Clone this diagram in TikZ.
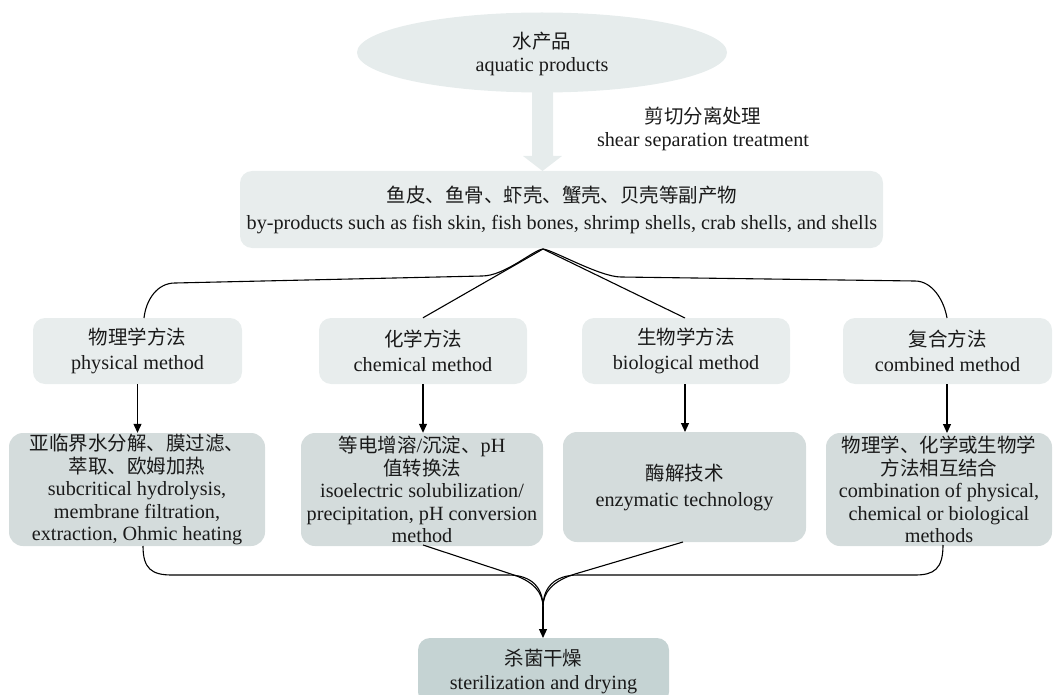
\documentclass[tikz,border=0pt]{standalone}
\usepackage{fontspec}
\setmainfont{Liberation Serif}
\newfontfamily\cjk[Scale=0.965]{Noto Sans CJK SC}
\usetikzlibrary{shapes.geometric,arrows.meta}
\definecolor{ellc}{HTML}{E6ECEC}
\definecolor{lightc}{HTML}{E8EDED}
\definecolor{midc}{HTML}{D4DCDC}
\definecolor{darkc}{HTML}{C5D3D3}
\definecolor{txt}{HTML}{1A1A1A}
\begin{document}
\begin{tikzpicture}[x=1pt,y=-1pt,
  every node/.style={font=\fontsize{20.2}{22.5}\selectfont, text=txt, align=center, inner sep=0pt},
  lightbox/.style={fill=lightc, rounded corners=12pt, minimum height=66pt, minimum width=209pt},
  midbox/.style={fill=midc, rounded corners=14pt, minimum height=113pt},
  conn/.style={draw=black, line width=1.1pt},
  arr/.style={conn, -{Triangle[length=9pt,width=8pt]}}]
\useasboundingbox (0,0) rectangle (1054,695);
\clip (0,0) rectangle (1054,695);
% big arrow
\fill[ellc] (532,80) -- (553,80) -- (553,156) -- (562,156) -- (542.5,171) -- (523,156) -- (532,156) -- cycle;
\node[ellipse, fill=ellc, minimum width=370pt, minimum height=80pt] (aq) at (542,52.5) {};
\node[font=\fontsize{20.2}{23}\selectfont] (aqt) at (542,54) {{\cjk 水产品}\\aquatic products};
\node[font=\fontsize{20.2}{23}\selectfont] (shear) at (703,129) {{\cjk 剪切分离处理}\\shear separation treatment};
% by-products
\node[fill=lightc, rounded corners=12pt, minimum width=643pt, minimum height=77pt] (bp) at (561.5,209.5) {};
\node[font=\fontsize{20.2}{27}\selectfont] (bpt) at (562,209.5) {{\cjk 鱼皮、鱼骨、虾壳、蟹壳、贝壳等副产物}\\by-products such as fish skin, fish bones, shrimp shells, crab shells, and shells};
% method boxes
\node[lightbox, font=\fontsize{20.2}{25}\selectfont] (phys) at (137.5,351) {{\cjk 物理学方法}\\physical method};
\node[lightbox, font=\fontsize{20.2}{25}\selectfont, minimum width=208pt] (chem) at (423,351) {{\cjk 化学方法}\\chemical method};
\node[lightbox, font=\fontsize{20.2}{25}\selectfont, minimum width=208pt] (bio) at (686,351) {{\cjk 生物学方法}\\biological method};
\node[lightbox, font=\fontsize{20.2}{25}\selectfont] (comb) at (947.5,351) {{\cjk 复合方法}\\combined method};
% detail boxes
\node[midbox, minimum width=256pt] (physd) at (137,489.5) {{\cjk 亚临界水分解、膜过滤、}\\{\cjk 萃取、欧姆加热}\\subcritical hydrolysis,\\membrane filtration,\\extraction, Ohmic heating};
\node[midbox, minimum width=242pt] (chemd) at (422,489.5) {{\cjk 等电增溶}/{\cjk 沉淀、}pH\\{\cjk 值转换法}\\isoelectric solubilization/\\precipitation, pH conversion\\method};
\node[midbox, minimum width=243pt, minimum height=110pt, font=\fontsize{20.2}{26}\selectfont] (biod) at (684.5,487) {{\cjk 酶解技术}\\enzymatic technology};
\node[midbox, minimum width=226pt] (combd) at (939,489.5) {{\cjk 物理学、化学或生物学}\\{\cjk 方法相互结合}\\combination of physical,\\chemical or biological\\methods};
% final
\node[fill=darkc, rounded corners=12pt, minimum width=251pt, minimum height=66pt, font=\fontsize{20.2}{24}\selectfont] (fin) at (543.5,671) {{\cjk 杀菌干燥}\\sterilization and drying};
% top connectors
\coordinate (peak) at (543,249);
\draw[conn] (peak) .. controls (533,250) and (505,276) .. (482,276) -- (175,283) .. controls (157,283) and (146,300) .. (144,318);
\draw[conn] (peak) .. controls (553,250) and (600,277) .. (621,277) -- (915,281) .. controls (932,281) and (944,300) .. (947,318);
\draw[conn] (peak) -- (chem.north);
\draw[conn] (peak) -- (685,318);
% down arrows
\draw[arr] (phys.south) -- (phys.south |- physd.north);
\draw[arr] (chem.south) -- (chem.south |- chemd.north);
\draw[arr] (685,384) -- (685,432);
\draw[arr] (947,384) -- (947,433);
% bottom connectors
\coordinate (pb) at (143,546);
\coordinate (cb) at (423,545);
\coordinate (bb) at (683,542);
\coordinate (kb) at (943,545);
\coordinate (m) at (543,607);
\draw[conn] (pb) .. controls (143,569) and (152,575) .. (172,575) -- (508,575) .. controls (532,575) and (543,588) .. (m);
\draw[conn] (cb) -- (511,574) .. controls (533,581) and (543,592) .. (m);
\draw[conn] (bb) -- (575,574) .. controls (553,581) and (543,592) .. (m);
\draw[conn] (kb) .. controls (943,569) and (934,575) .. (915,575) -- (578,575) .. controls (554,575) and (543,588) .. (m);
\draw[arr] (m) -- (543,638);
\end{tikzpicture}
\end{document}
